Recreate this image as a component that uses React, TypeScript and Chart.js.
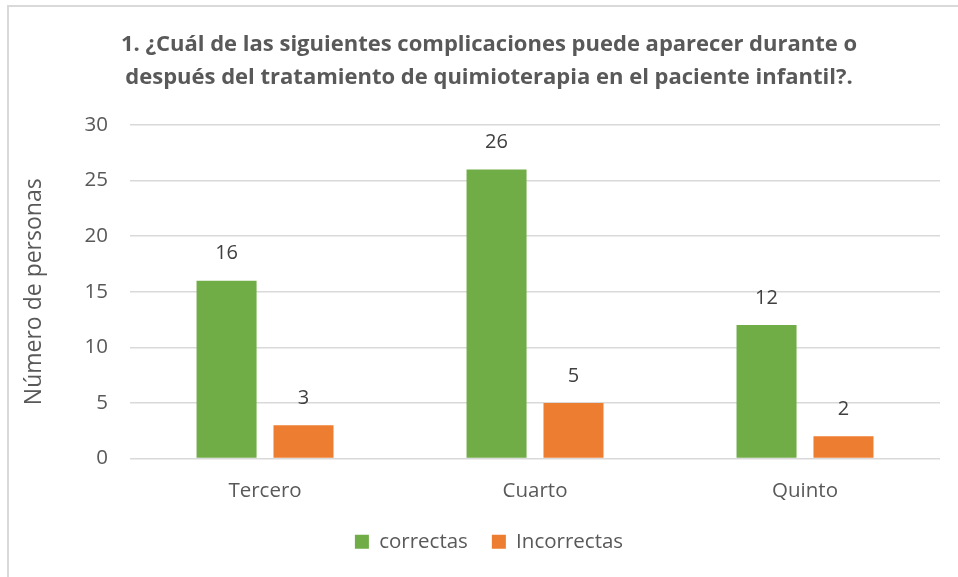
import React, { useEffect, useRef } from "react";
import { Chart, registerables } from "chart.js";

Chart.register(...registerables);

const categories = ["Tercero", "Cuarto", "Quinto"];
const correctas = [16, 26, 12];
const incorrectas = [3, 5, 2];
const titleLines = [
  "1. ¿Cuál de las siguientes complicaciones puede aparecer durante o",
  "después del tratamiento de quimioterapia en el paciente infantil?.",
];
const yAxisTitle = "Número de personas";

const FONT = "'Open Sans', 'Noto Sans', sans-serif";

const dataLabels = {
  id: "dataLabels",
  afterDatasetsDraw(chart: any) {
    const ctx = chart.ctx;
    ctx.save();
    ctx.font = `20px ${FONT}`;
    ctx.fillStyle = "#404040";
    ctx.textAlign = "center";
    ctx.textBaseline = "middle";
    chart.data.datasets.forEach((ds: any, i: number) => {
      const meta = chart.getDatasetMeta(i);
      meta.data.forEach((bar: any, j: number) => {
        ctx.fillText(String(ds.data[j]), bar.x, bar.y - 27);
      });
    });
    ctx.restore();
  },
};

export default function App() {
  const ref = useRef<HTMLCanvasElement>(null);
  useEffect(() => {
    if (!ref.current) return;
    const chart = new Chart(ref.current, {
      type: "bar",
      data: {
        labels: categories,
        datasets: [
          { label: "correctas", data: correctas, backgroundColor: "#70AD47" },
          { label: "Incorrectas", data: incorrectas, backgroundColor: "#ED7D31" },
        ],
      },
      options: {
        responsive: false,
        animation: false,
        layout: { padding: { left: 38, right: 18, top: 28, bottom: 15 } },
        datasets: { bar: { categoryPercentage: 0.57, barPercentage: 0.78 } },
        plugins: {
          title: {
            display: true,
            text: titleLines,
            color: "#595959",
            font: { family: FONT, size: 22, weight: "bold", lineHeight: 1.5 },
            padding: { top: 0, bottom: 31 },
          },
          legend: {
            position: "bottom",
            labels: {
              color: "#595959",
              font: { family: FONT, size: 20.5 },
              boxWidth: 14,
              boxHeight: 14,
              padding: 24,
            },
          },
          tooltip: { enabled: false },
        },
        scales: {
          x: {
            grid: { display: false },
            border: { display: false },
            ticks: { color: "#595959", font: { family: FONT, size: 20.5 }, padding: 12 },
            afterFit: (scale: any) => {
              scale.height = 49;
            },
          },
          y: {
            min: 0,
            max: 30,
            ticks: { stepSize: 5, color: "#595959", font: { family: FONT, size: 20.5 }, padding: 22 },
            grid: { color: "#d9d9d9", lineWidth: 1.5, drawTicks: false },
            border: { display: false },
            title: {
              display: true,
              text: yAxisTitle,
              color: "#595959",
              font: { family: FONT, size: 23 },
              padding: { top: -17, bottom: 14 },
            },
          },
        },
      },
      plugins: [dataLabels],
    });
    return () => chart.destroy();
  }, []);
  return (
    <div style={{ position: "absolute", left: 0, top: 0, width: 958, height: 577, overflow: "hidden", background: "#fff" }}>
      <div
        style={{
          position: "absolute",
          left: 7,
          top: 5,
          width: 1000,
          height: 1000,
          borderTop: "2px solid #d9d9d9",
          borderLeft: "2px solid #d9d9d9",
        }}
      />
      <canvas ref={ref} width={958} height={577} style={{ position: "absolute", left: 0, top: 0 }} />
    </div>
  );
}
